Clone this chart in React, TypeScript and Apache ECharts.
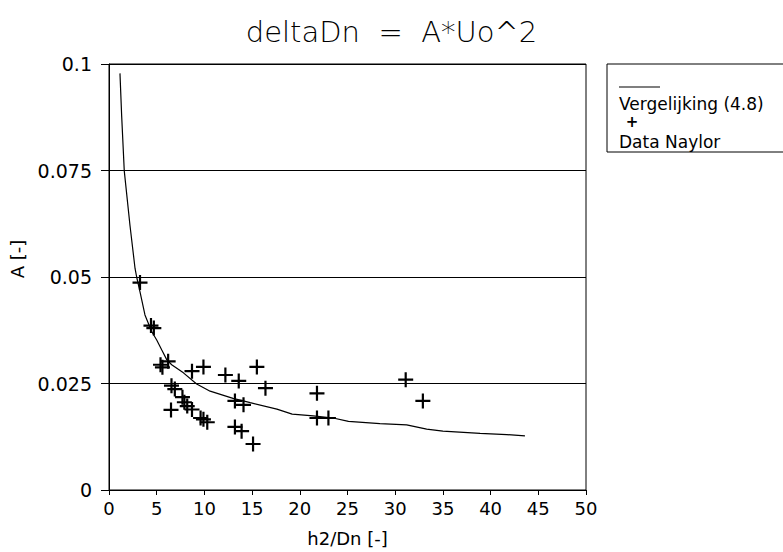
import React, { useEffect, useRef } from "react";
import * as echarts from "echarts";

const curveX = [1.15, 1.33, 1.6, 2.2, 2.73, 2.9, 3.25, 3.77, 4.47, 5.0, 5.52, 6.05, 6.57, 7.8, 9.19, 10.6, 13.0, 14.8, 17.6, 19.2, 21.4, 23.5, 25.1, 28.4, 31.2, 33.3, 35.0, 38.9, 41.7, 43.6];
const curveY = [0.0978, 0.0877, 0.0749, 0.0621, 0.052, 0.05, 0.0465, 0.0411, 0.0372, 0.0352, 0.0329, 0.0306, 0.0294, 0.0275, 0.0249, 0.0232, 0.0215, 0.0205, 0.019, 0.0178, 0.0174, 0.0169, 0.0161, 0.0156, 0.0153, 0.0143, 0.0138, 0.0133, 0.013, 0.0127];

const naylorX = [3.25, 4.4, 4.7, 5.4, 5.6, 6.2, 6.55, 6.9, 6.5, 7.7, 7.9, 8.2, 8.7, 8.7, 9.6, 9.9, 10.3, 9.9, 12.2, 13.2, 13.6, 14.1, 13.2, 13.9, 15.1, 15.5, 16.4, 21.8, 21.8, 23.0, 31.1, 32.9];
const naylorY = [0.0487, 0.0386, 0.038, 0.0294, 0.0288, 0.0302, 0.0245, 0.0237, 0.0188, 0.0218, 0.0206, 0.0197, 0.0279, 0.0189, 0.0169, 0.0166, 0.0159, 0.0289, 0.027, 0.0209, 0.0256, 0.02, 0.0148, 0.0138, 0.0108, 0.0289, 0.0239, 0.0227, 0.0169, 0.0169, 0.0259, 0.0209];

const xTicks = { min: 0, max: 50, interval: 5 };
const yTicks = { min: 0, max: 0.1, interval: 0.025 };

const titleText = "deltaDn  =  A*Uo^2";
const xName = "h2/Dn [-]";
const yName = "A [-]";
const lineName = "Vergelijking (4.8)";
const scatterName = "Data Naylor";

const FONT = "DejaVu Sans";

export default function App() {
  const ref = useRef<HTMLDivElement>(null);
  useEffect(() => {
    if (!ref.current) return;
    const chart = echarts.init(ref.current, undefined, { renderer: "svg" });
    const plus = "path://M6.4,0h2.2v6.4h6.4v2.2h-6.4v6.4h-2.2v-6.4h-6.4v-2.2h6.4z";
    chart.setOption({
      animation: false,
      backgroundColor: "#ffffff",
      title: {
        text: titleText,
        left: "center",
        top: 12,
        textStyle: { fontFamily: FONT, fontSize: 29, fontWeight: 300, color: "#000" },
      },
      grid: {
        left: 109,
        top: 64,
        width: 477,
        height: 429,
        show: true,
        borderColor: "#000",
        borderWidth: 1,
        backgroundColor: "transparent",
      },
      xAxis: {
        type: "value",
        min: xTicks.min,
        max: xTicks.max,
        interval: xTicks.interval,
        name: xName,
        nameLocation: "middle",
        nameGap: 39,
        nameTextStyle: { fontFamily: FONT, fontSize: 18, color: "#000" },
        axisLine: { show: true, lineStyle: { color: "#000", width: 1 } },
        axisTick: { show: true, length: 5, lineStyle: { color: "#000" } },
        axisLabel: { fontFamily: FONT, fontSize: 18, color: "#000", margin: 9 },
        splitLine: { show: false },
      },
      yAxis: {
        type: "value",
        min: yTicks.min,
        max: yTicks.max,
        interval: yTicks.interval,
        name: yName,
        nameLocation: "middle",
        nameRotate: 90,
        nameGap: 82,
        nameTextStyle: { fontFamily: FONT, fontSize: 18, color: "#000", padding: [0, 0, 0, 36] },
        axisLine: { show: true, lineStyle: { color: "#000", width: 1 } },
        axisTick: { show: true, length: 8, lineStyle: { color: "#000" } },
        axisLabel: { fontFamily: FONT, fontSize: 19, color: "#000", margin: 17 },
        splitLine: { show: true, lineStyle: { color: "#000", width: 1.2 } },
      },
      series: [
        {
          name: lineName,
          type: "line",
          data: curveX.map((x, i) => [x, curveY[i]]),
          showSymbol: false,
          symbol: "none",
          smooth: false,
          lineStyle: { color: "#000", width: 1.2 },
          z: 3,
        },
        {
          name: scatterName,
          type: "scatter",
          data: naylorX.map((x, i) => [x, naylorY[i]]),
          symbol: plus,
          symbolSize: 15,
          itemStyle: { color: "#000", opacity: 1 },
          z: 4,
        },
      ],
      graphic: [
        {
          type: "rect",
          shape: { x: 607, y: 64, width: 200, height: 88 },
          style: { fill: "none", stroke: "#000", lineWidth: 1 },
        },
        {
          type: "line",
          shape: { x1: 619, y1: 87, x2: 660, y2: 87 },
          style: { stroke: "#000", lineWidth: 1.2 },
        },
        {
          type: "text",
          x: 619,
          y: 104,
          style: { text: lineName, fontFamily: FONT, fontSize: 17, fill: "#000", verticalAlign: "middle", align: "left" },
        },
        {
          type: "text",
          x: 632,
          y: 122,
          style: { text: "+", fontFamily: FONT, fontSize: 15, fontWeight: "bold", fill: "#000", verticalAlign: "middle", align: "center" },
        },
        {
          type: "text",
          x: 619,
          y: 142,
          style: { text: scatterName, fontFamily: FONT, fontSize: 17, fill: "#000", verticalAlign: "middle", align: "left" },
        },
      ],
    });
    return () => chart.dispose();
  }, []);
  return (
    <div
      ref={ref}
      style={{ position: "fixed", left: 0, top: 0, width: 783, height: 552, background: "#fff" }}
    />
  );
}
